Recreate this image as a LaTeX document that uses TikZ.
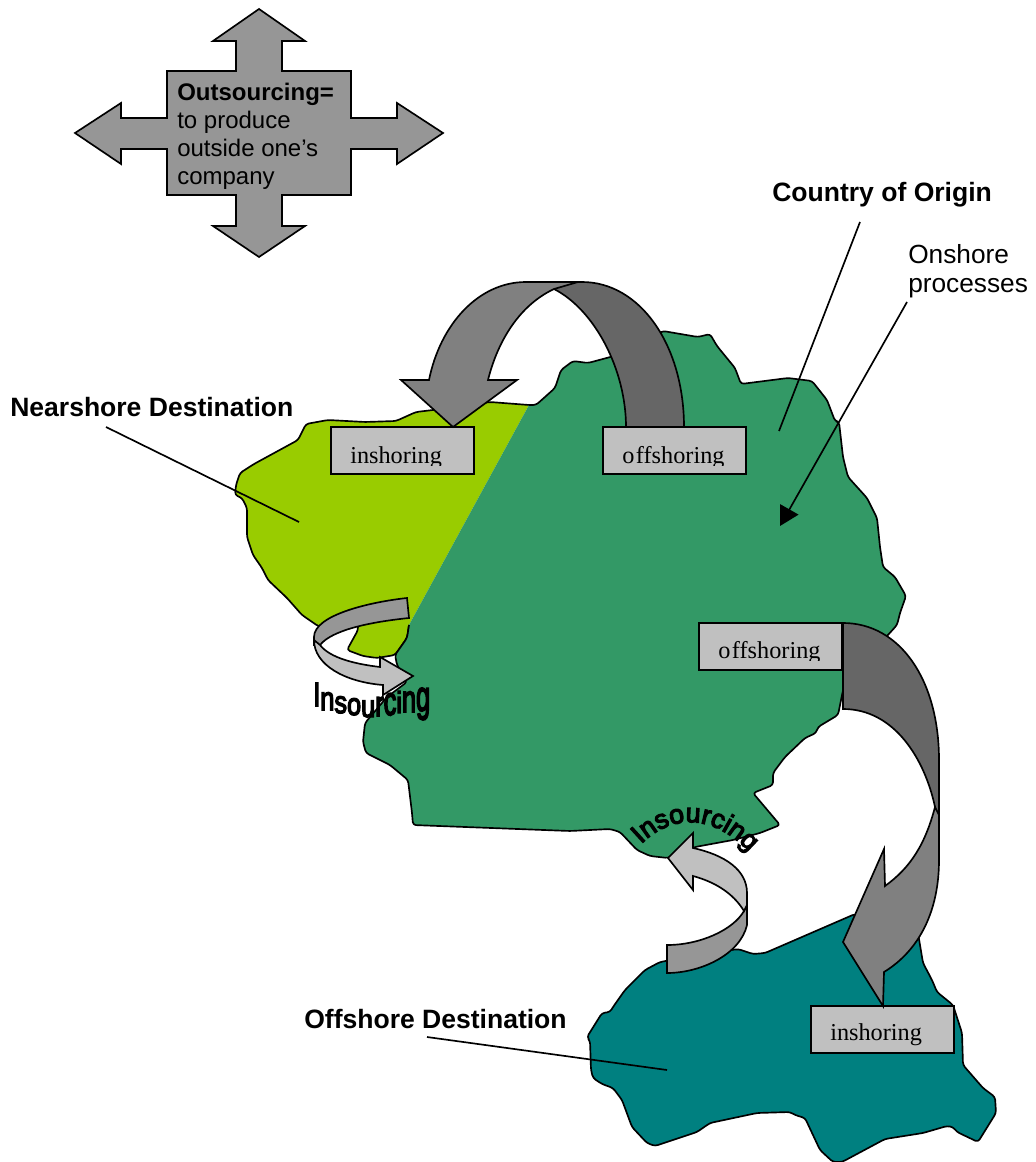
\documentclass[tikz,border=0pt]{standalone}
\usepackage{fontspec}
\usepackage{graphicx}
\usetikzlibrary{arrows.meta,decorations.text}
\setmainfont{Liberation Sans}
\newfontfamily\timesf{Liberation Serif}
\newfontfamily\artf[FakeBold=4.5]{Liberation Sans}
\definecolor{gcross}{HTML}{969696}
\definecolor{glight}{HTML}{808080}
\definecolor{gdark}{HTML}{666666}
\definecolor{gbox}{HTML}{C0C0C0}
\definecolor{lgreen}{HTML}{339966}
\definecolor{llime}{HTML}{99CC00}
\definecolor{lteal}{HTML}{008080}
\newcommand\wl[3]{\raisebox{#3pt}{\scalebox{1}[#2]{#1}}}
\tikzset{
 land/.style={draw=black,line width=1.25pt,rounded corners=2.2pt,line join=round},
 ribbon/.style={draw=black,line width=1.25pt,line join=miter},
 boxshape/.style={draw=black,line width=1.5pt,fill=gbox,minimum width=107pt,minimum height=35pt,inner sep=0pt,outer sep=0pt,anchor=north west},
 boxtext/.style={font=\timesf\fontsize{18.2}{20}\selectfont,anchor=base west,inner sep=0pt},
 blab/.style={font=\bfseries\fontsize{19.9}{22}\selectfont,anchor=base west,inner sep=0pt},
 leader/.style={draw=black,line width=1.25pt},
}
\begin{document}
\begin{tikzpicture}[x=0.75pt,y=-0.75pt]
\useasboundingbox (0,0) rectangle (1035,1162);
\fill[white] (0,0) rectangle (1035,1162);

% offshore land
\draw[land,fill=lteal] (855,914) -- (765,953) -- (753,954) -- (738,949) -- (700,955) -- (660,962) -- (645,970) -- (625,990) -- (613,1007) -- (610,1012) -- (602,1013) -- (587,1037) -- (590,1041) -- (591,1070) -- (593,1078) -- (602,1084) -- (613,1088) -- (622,1100) -- (632,1127) -- (647,1143) -- (655,1146) -- (697,1132) -- (710,1123) -- (757,1113) -- (790,1112) -- (795,1115) -- (805,1118) -- (820,1150) -- (833,1162) -- (842,1162) -- (885,1139) -- (923,1133) -- (947,1126) -- (953,1127) -- (957,1132) -- (978,1142) -- (996,1113) -- (995,1097) -- (983,1088) -- (963,1065) -- (962,1033) -- (953,1005) -- (937,992) -- (932,980) -- (923,963) -- (918,933) -- cycle;

% nearshore land
\draw[land,fill=llime] (529,405) -- (490,402) -- (433,410) -- (416,412) -- (396,421) -- (365,422) -- (328,420) -- (306,424) -- (298,440) -- (254,464) -- (240,473) -- (236,485) -- (235,495) -- (242,498) -- (247,508) -- (247,537) -- (253,555) -- (262,568) -- (268,580) -- (287,598) -- (302,615) -- (318,626) -- (330,630) -- (358,622) -- (358,630) -- (347,650) -- (363,656) -- (377,658) -- (395,655) -- (407,638) -- (409,625);

% home land
\draw[land,fill=lgreen] (529,405) -- (536,405) -- (555,388) -- (561,370) -- (573,361) -- (588,363) -- (614,356) -- (663,331) -- (698,337) -- (710,334) -- (717,346) -- (735,368) -- (741,384) -- (788,378) -- (812,381) -- (827,400) -- (835,421) -- (839,422) -- (843,457) -- (848,477) -- (867,498) -- (877,518) -- (880,547) -- (883,567) -- (895,577) -- (906,596) -- (900,613) -- (897,625) -- (887,636) -- (860,660) -- (843,690) -- (838,715) -- (818,727) -- (816,733) -- (805,738) -- (785,757) -- (773,773) -- (773,785) -- (753,793) -- (780,825) -- (760,833) -- (733,840) -- (695,847) -- (668,858) -- (650,856) -- (637,850) -- (620,832) -- (610,829) -- (570,831) -- (413,825) -- (412,813) -- (408,780) -- (390,765) -- (366,753) -- (363,742) -- (365,723) -- (387,697) -- (407,682) -- (397,665) -- (395,655) -- (407,638) -- (409,625);

% leaders
\coordinate (cA) at (860,222); \coordinate (cB) at (779,431);
\coordinate (oA) at (907,302); \coordinate (oB) at (780,526);
\coordinate (nA) at (106,427); \coordinate (nB) at (299,522);
\coordinate (fA) at (427,1037); \coordinate (fB) at (667,1070);
\draw[leader] (cA) -- (cB);
\draw[leader,-{Triangle[length=14.3pt,width=15.5pt]}] (oA) -- (oB);
\draw[leader] (nA) -- (nB);
\draw[leader] (fA) -- (fB);

% boxes
\node[boxshape] (b1) at (331,427) {};
\node[boxshape] (b2) at (603,427) {};
\node[boxshape] (b3) at (699,623) {};
\node[boxshape] (b4) at (811,1006) {};
\begin{scope}
\clip (331,427) rectangle (474,465);
\node[boxtext] (t1) at (350,463) {inshoring};
\end{scope}
\begin{scope}
\clip (603,427) rectangle (747,465);
\node[boxtext] (t2) at (622,463) {o\hspace{1.2pt}ffshoring};
\end{scope}
\begin{scope}
\clip (699,623) rectangle (843,660);
\node[boxtext] (t3) at (718,658) {o\hspace{1.2pt}ffshoring};
\end{scope}
\node[boxtext] (t4) at (830,1040) {inshoring};

% top arrow
\draw[ribbon,fill=gdark] (684,427) .. controls (684,345) and (640,282) .. (582,282) -- (570,282) -- (554,289) .. controls (595,310) and (626,370) .. (626,427) -- cycle;
\draw[ribbon,fill=glight] (578,282) -- (526,282) .. controls (478,282) and (440,325) .. (429,380) -- (401,380) -- (453,427) -- (517,380) -- (488,380) .. controls (498,340) and (520,305) .. (554,289) -- cycle;

% right arrow
\draw[ribbon,fill=gdark] (843,623) .. controls (900,623) and (939,680) .. (939,760) -- (939,830) -- (935,807) .. controls (925,760) and (895,709) .. (843,709) -- cycle;
\draw[ribbon,fill=glight] (935,807) .. controls (925,845) and (910,868) .. (885,886) -- (884,849) -- (843,942) -- (883,1006) -- (884,972) .. controls (920,950) and (939,910) .. (939,860) -- (939,815) -- cycle;

% near curl
\draw[ribbon,fill=gcross] (407,598) .. controls (370,602) and (314,615) .. (314,637) -- (314,645) -- (320,645) .. controls (332,630) and (370,622) .. (409,618) -- cycle;
\draw[ribbon,fill=gbox] (314,640) .. controls (314,665) and (345,682) .. (383,685) -- (383,695) -- (413,676) -- (380,657) -- (380,667) .. controls (355,664) and (330,658) .. (320,645) -- cycle;

% far curl
\draw[ribbon,fill=gcross] (667,945) .. controls (700,945) and (733,930) .. (744,911) -- (747,905) -- (747,925) .. controls (740,955) and (700,973) .. (667,973) -- cycle;
\draw[ribbon,fill=gbox] (668,858) -- (693,833) -- (693,848) .. controls (725,855) and (747,870) .. (747,893) -- (747,905) -- (744,911) .. controls (733,893) and (715,882) .. (693,876) -- (693,890) -- cycle;

% cross
\draw[ribbon,fill=gcross] (259,9) -- (305,41) -- (282,41) -- (282,71) -- (351,71) -- (351,118) -- (397,118) -- (397,103) -- (443,133) -- (397,164) -- (397,149) -- (351,149) -- (351,195) -- (282,195) -- (282,226) -- (305,226) -- (259,257) -- (213,226) -- (236,226) -- (236,195) -- (167,195) -- (167,149) -- (121,149) -- (121,164) -- (75,133) -- (121,103) -- (121,118) -- (167,118) -- (167,71) -- (236,71) -- (236,41) -- (213,41) -- cycle;
\node[anchor=north west,inner sep=0pt,align=left,font=\fontsize{18}{21}\selectfont] (ct) at (177,82.5) {\textbf{Outsourcing=}\\to produce\\outside one’s\\company};

% labels
\node[blab] (l1) at (772,202) {Country of Origin};
\node[anchor=north west,inner sep=0pt,align=left,font=\fontsize{19.7}{22}\selectfont] (l2) at (908,244) {Onshore\\processes};
\node[blab] (l3) at (10,416) {Nearshore Destination};
\node[blab] (l4) at (304,1028) {Offshore Destination};

% word art
\node[anchor=base west,inner sep=0pt,font=\artf\fontsize{19}{20}\selectfont] (w1) at (313,715) {\wl{I}{1.33}{6.75}\wl{n}{1.3}{3.75}\wl{s}{1.23}{1.5}\wl{o}{1.23}{0}\wl{u}{1.23}{-1.5}\wl{r}{1.4}{-0.75}\wl{c}{1.6}{0}\wl{i}{1.2}{1.5}\wl{n}{1.5}{2.25}\wl{g}{1.7}{3}};
\coordinate (wa) at (634,852); \coordinate (wb) at (756,860);
\path[decorate,decoration={text along path,text align=center,text={|\artf\fontsize{20}{20}\selectfont|Insourcing}}] (wa) .. controls (668,811) and (716,811) .. (wb);
\end{tikzpicture}
\end{document}
